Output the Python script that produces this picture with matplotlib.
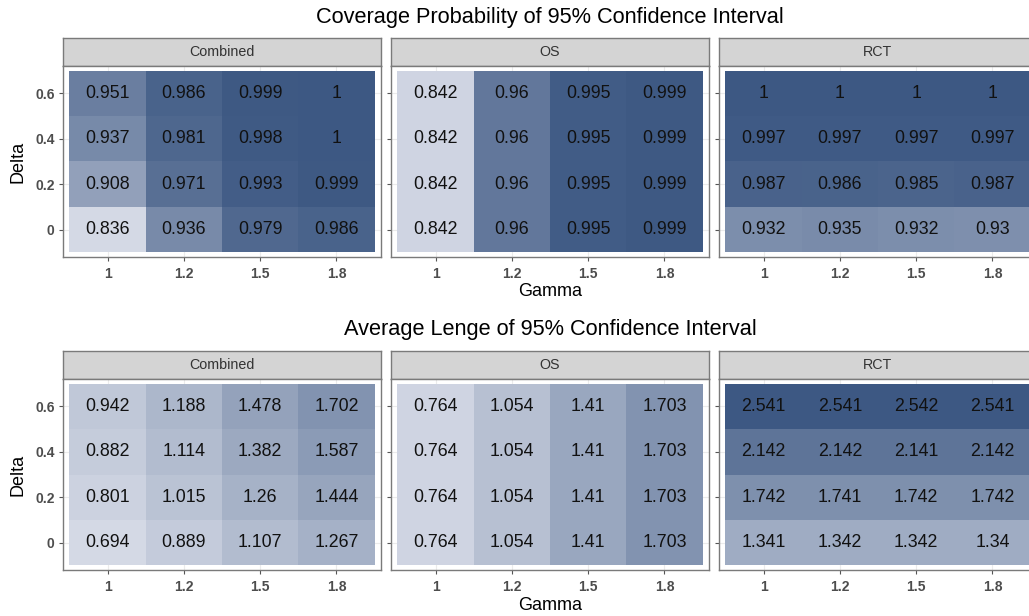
import numpy as np
import matplotlib
matplotlib.use('Agg')
import matplotlib.pyplot as plt
from matplotlib.colors import LinearSegmentedColormap


### Data
methods = ['Combined', 'OS', 'RCT']
gamma_labels = ['1', '1.2', '1.5', '1.8']
delta = [0, 0.2, 0.4, 0.6]

# rows: delta 0, 0.2, 0.4, 0.6 ; cols: gamma 1, 1.2, 1.5, 1.8
cover_combined = [[0.836, 0.936, 0.979, 0.986],
                  [0.908, 0.971, 0.993, 0.999],
                  [0.937, 0.981, 0.998, 1],
                  [0.951, 0.986, 0.999, 1]]
cover_os = [[0.842, 0.96, 0.995, 0.999],
            [0.842, 0.96, 0.995, 0.999],
            [0.842, 0.96, 0.995, 0.999],
            [0.842, 0.96, 0.995, 0.999]]
cover_rct = [[0.932, 0.935, 0.932, 0.93],
             [0.987, 0.986, 0.985, 0.987],
             [0.997, 0.997, 0.997, 0.997],
             [1, 1, 1, 1]]

length_combined = [[0.694, 0.889, 1.107, 1.267],
                   [0.801, 1.015, 1.26, 1.444],
                   [0.882, 1.114, 1.382, 1.587],
                   [0.942, 1.188, 1.478, 1.702]]
length_os = [[0.764, 1.054, 1.41, 1.703],
             [0.764, 1.054, 1.41, 1.703],
             [0.764, 1.054, 1.41, 1.703],
             [0.764, 1.054, 1.41, 1.703]]
length_rct = [[1.341, 1.342, 1.342, 1.34],
              [1.742, 1.741, 1.742, 1.742],
              [2.142, 2.142, 2.141, 2.142],
              [2.541, 2.541, 2.542, 2.541]]

rows = [
    ('Coverage Probability of 95% Confidence Interval',
     [cover_combined, cover_os, cover_rct]),
    ('Average Lenge of 95% Confidence Interval',
     [length_combined, length_os, length_rct]),
]


### Style
plt.rcParams['font.family'] = ['Liberation Sans', 'DejaVu Sans']
cmap = LinearSegmentedColormap.from_list('fill', ['#d4d9e5', '#3d5883'])
W, H = 1029, 616
fig = plt.figure(figsize=(W / 100, H / 100), dpi=100)


def px_axes(x0, y0, w, h):
    # pixel box (top-left origin) -> figure axes
    return fig.add_axes([x0 / W, 1 - (y0 + h) / H, w / W, h / H])


panel_x = [63, 391, 719]
panel_w = 318
row_strip_top = [38, 351]
strip_h = 28
panel_h = 191
title_y = [17, 329]
gamma_y = [292, 606]
tick_c = '#4d4d4d'
border_c = '#7a7a7a'

xs = np.arange(1, 5)
x_edges = np.arange(0.5, 5.0, 1.0)
y_edges = np.arange(-0.1, 0.75, 0.2)

for r, (title, mats) in enumerate(rows):
    vmin = min(np.min(m) for m in mats)
    vmax = max(np.max(m) for m in mats)
    top = row_strip_top[r]

    for p, (name, mat) in enumerate(zip(methods, mats)):
        # strip
        sx = px_axes(panel_x[p], top, panel_w, strip_h)
        sx.set_facecolor('#d4d4d4')
        sx.set_xticks([])
        sx.set_yticks([])
        for s in sx.spines.values():
            s.set_color(border_c)
            s.set_linewidth(1.0)
        sx.text(0.5, 0.5, name, ha='center', va='center', fontsize=10.3,
                color='#333333', transform=sx.transAxes)

        # panel
        ax = px_axes(panel_x[p], top + strip_h, panel_w, panel_h)
        mat = np.array(mat)
        ax.pcolormesh(x_edges, y_edges, mat, cmap=cmap, vmin=vmin, vmax=vmax,
                      shading='flat', zorder=2)
        for i, d in enumerate(delta):
            for j, xv in enumerate(xs):
                ax.text(xv, d, '{:g}'.format(mat[i, j]), ha='center',
                        va='center', fontsize=12.8, color='#111111', zorder=3)
        ax.set_xlim(0.415, 4.585)
        ax.set_ylim(-0.12, 0.72)
        ax.set_xticks(xs)
        ax.set_xticklabels(gamma_labels)
        ax.set_yticks(delta)
        ax.set_yticklabels(['0', '0.2', '0.4', '0.6'] if p == 0 else [])
        ax.grid(True, color='#ebebeb', linewidth=0.8, zorder=0)
        ax.set_axisbelow(True)
        ax.tick_params(length=3, width=0.8, color='#555555', labelsize=10,
                       labelcolor=tick_c, pad=3)
        ax.tick_params(axis='x', pad=4.5)
        for lab in ax.get_xticklabels() + ax.get_yticklabels():
            lab.set_fontweight('bold')
        for s in ax.spines.values():
            s.set_color(border_c)
            s.set_linewidth(1.0)
        if p == 0:
            ax.set_ylabel('Delta', fontsize=13, va='center')
            ax.yaxis.set_label_coords((18 - panel_x[0]) / panel_w, 0.5)

    centre = (panel_x[0] + panel_x[2] + panel_w) / 2
    fig.text(centre / W, 1 - title_y[r] / H, title, ha='center', va='center',
             fontsize=15.7)
    fig.text(centre / W, 1 - gamma_y[r] / H, 'Gamma', ha='center',
             va='center', fontsize=13)

plt.savefig('out.png', dpi=100)
plt.close(fig)
